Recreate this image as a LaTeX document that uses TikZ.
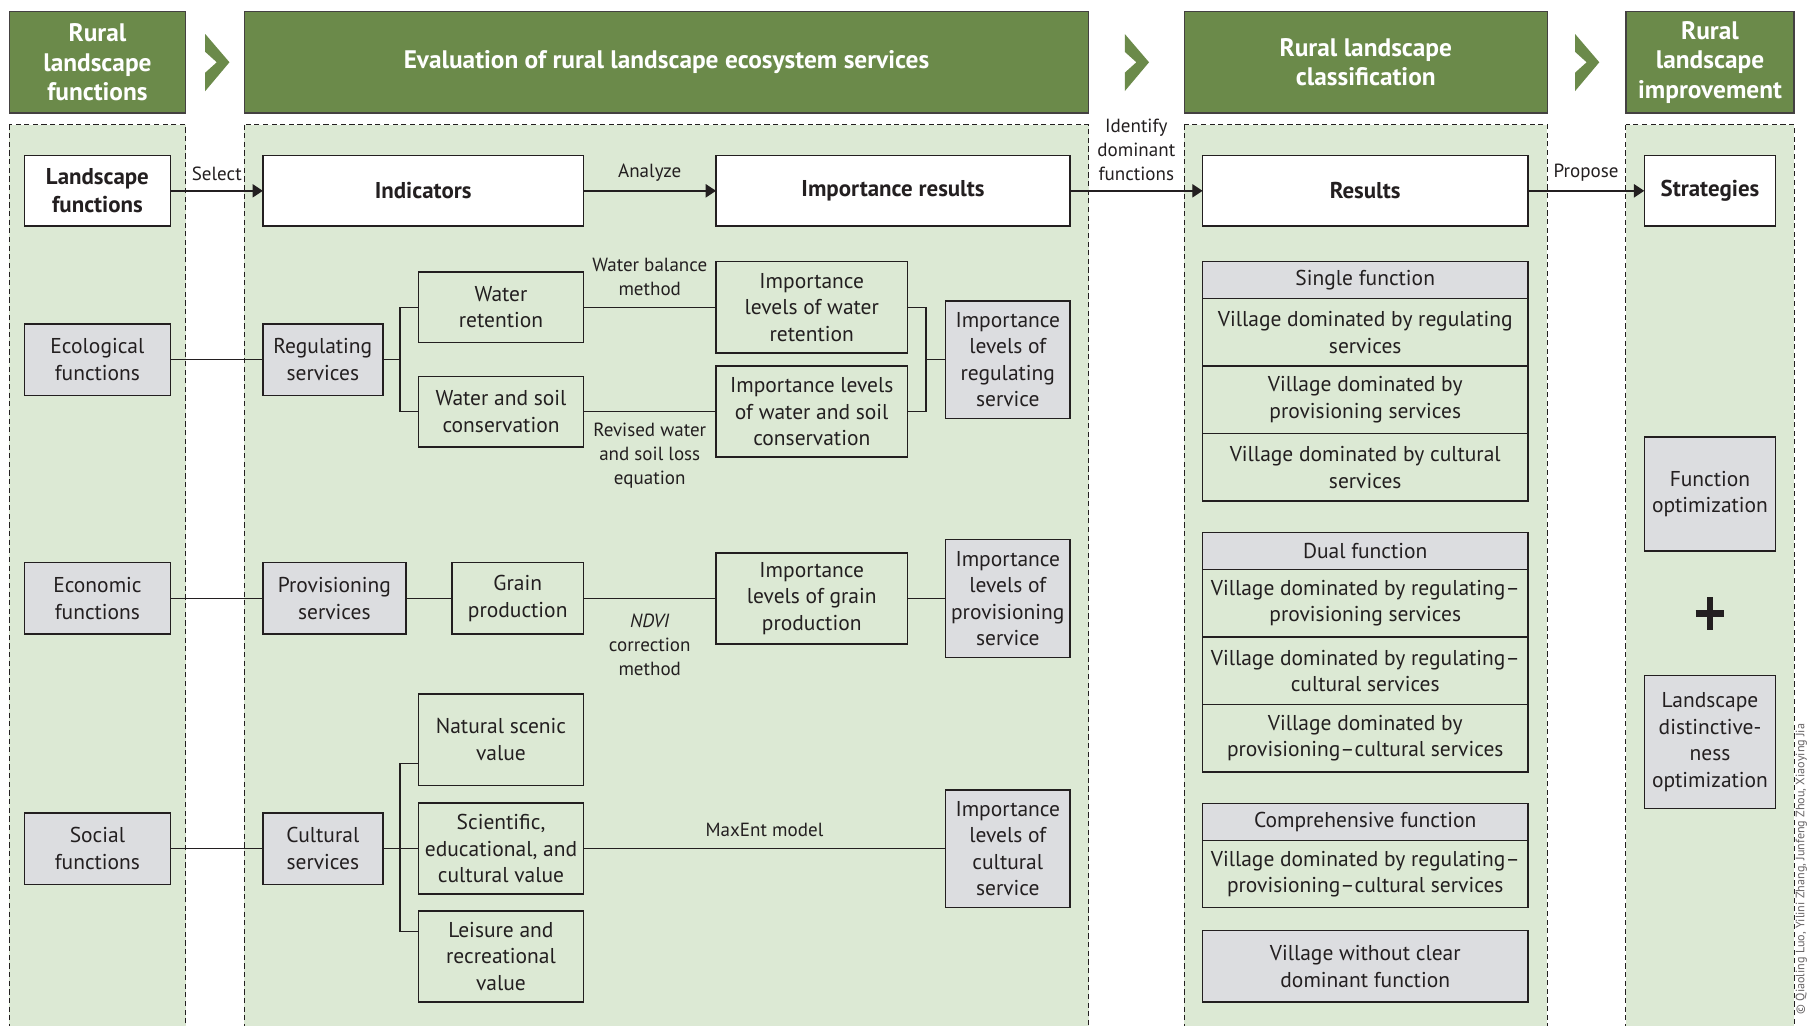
\documentclass[tikz,border=0pt]{standalone}
\usepackage{fontspec}
\setmainfont{PT Sans}
\usetikzlibrary{positioning, calc, arrows.meta}

\definecolor{hdgreen}{RGB}{107,138,74}
\definecolor{panelgreen}{RGB}{220,233,212}
\definecolor{boxgray}{RGB}{220,221,224}
\definecolor{ink}{RGB}{35,31,32}

\tikzset{
  sz/.style 2 args={minimum width=#1*0.2mm, minimum height=#2*0.2mm},
  head/.style={draw=ink!85, line width=0.7pt, fill=hdgreen, text=white, align=center, inner sep=0pt, font=\fontsize{12.5}{14.5}\selectfont\bfseries},
  panel/.style={draw=ink, line width=0.5pt, fill=panelgreen, dash pattern=on 0.9mm off 0.6mm},
  keybox/.style={draw=ink, line width=0.7pt, fill=white, text=ink, align=center, inner sep=0pt, outer sep=0pt, font=\fontsize{11.3}{14}\selectfont\bfseries},
  greybox/.style={draw=ink, line width=0.7pt, fill=boxgray, text=ink, align=center, inner sep=0pt, outer sep=0pt, font=\fontsize{10.6}{13.1}\selectfont},
  greenbox/.style={draw=ink, line width=0.7pt, fill=panelgreen, text=ink, align=center, inner sep=0pt, outer sep=0pt, font=\fontsize{10.6}{13.1}\selectfont},
  lbl/.style={align=center, text=ink, inner sep=2.5pt, font=\fontsize{9.4}{11.8}\selectfont},
  link/.style={draw=ink, line width=0.7pt},
  flow/.style={link, -{Triangle[length=1.8mm, width=2.3mm]}},
}

\begin{document}
\begin{tikzpicture}[x=0.2mm, y=-0.2mm]
    \useasboundingbox (0,0) rectangle (1568,889);

    \foreach \xa/\xb in {8/161, 212/944, 1027/1342, 1410/1556}
        \draw[panel] (\xa,108) rectangle (\xb,905);
    \foreach \cx in {178,975.5,1366}
        \fill[hdgreen] (\cx,29.5) -- (\cx+21,54) -- (\cx,79) -- (\cx,63) -- (\cx+10,54) -- (\cx,45) -- cycle;

    \node (hfun) at (84.5,54) [head, sz={153}{88}] {Rural\\landscape\\functions};
    \node (heval) at (578,54) [head, sz={732}{88}] {Evaluation of rural landscape ecosystem services};
    \node (hclass) at (1184.5,54) [head, sz={315}{88}] {Rural landscape\\classification};
    \node (himp) at (1483,54) [head, sz={146}{88}] {Rural\\landscape\\improvement};

    \node (lf) at (84.5,165.5) [keybox, sz={127}{61}] {Landscape\\functions};
    \node (ind) at (367,165.5) [keybox, sz={278}{61}] {Indicators};
    \node (imp) at (774.5,165.5) [keybox, sz={307}{61}] {Importance results};
    \node (res) at (1184,165.5) [keybox, sz={282}{61}] {Results};
    \node (strat) at (1483,165.5) [keybox, sz={114}{61}] {Strategies};

    \draw[flow] (lf) -- node[lbl, above=2pt] {Select} (ind);
    \draw[flow] (ind) -- node[lbl, above=2pt] {Analyze} (imp);
    \draw[flow] (imp) -- node[lbl, above=2pt] {Identify\\dominant\\functions} (res);
    \draw[flow] (res) -- node[lbl, above=2pt] {Propose} (strat);

    \node (eco) at (84.5,312) [greybox, sz={127}{62}] {Ecological\\functions};
    \node (econ) at (84.5,519) [greybox, sz={127}{62}] {Economic\\functions};
    \node (soc) at (84.5,736) [greybox, sz={127}{62}] {Social\\functions};

    \node (reg) at (280,312) [greybox, sz={104}{62}] {Regulating\\services};
    \node (prov) at (290,519) [greybox, sz={124}{62}] {Provisioning\\services};
    \node (cult) at (280,736) [greybox, sz={104}{62}] {Cultural\\services};

    \node (wr) at (434.5,266.5) [greenbox, sz={143}{61}] {Water\\retention};
    \node (wsc) at (434.5,357) [greenbox, sz={143}{61}] {Water and soil\\conservation};
    \node (grain) at (449,519) [greenbox, sz={114}{62}] {Grain\\production};
    \node (nat) at (434.5,641.5) [greenbox, sz={143}{79}] {Natural scenic\\value};
    \node (sci) at (434.5,736) [greenbox, sz={143}{79}] {Scientific,\\educational, and\\cultural value};
    \node (leis) at (434.5,829.5) [greenbox, sz={143}{79}] {Leisure and\\recreational\\value};

    \node (iwr) at (704,266.5) [greenbox, sz={166}{79}] {Importance\\levels of water\\retention};
    \node (iwsc) at (704,357) [greenbox, sz={166}{79}] {Importance levels\\of water and soil\\conservation};
    \node (igp) at (704,519) [greenbox, sz={166}{79}] {Importance\\levels of grain\\production};

    \node (irs) at (874,312) [greybox, sz={108}{102}] {Importance\\levels of\\regulating\\service};
    \node (ips) at (874,519) [greybox, sz={108}{102}] {Importance\\levels of\\provisioning\\service};
    \node (ics) at (874,736) [greybox, sz={108}{102}] {Importance\\levels of\\cultural\\service};

    \coordinate (regj) at (347,312);
    \coordinate (impj) at (803,312);
    \coordinate (cultj) at (347,736);

    \draw[link] (eco) -- (reg);
    \draw[link] (econ) -- (prov);
    \draw[link] (soc) -- (cult);
    \draw[link] (reg) -- (regj);
    \draw[link] (wr.west) -| (regj) |- (wsc.west);
    \draw[link] (wr) -- node[lbl, above=3pt] {Water balance\\method} (iwr);
    \draw[link] (wsc) -- node[lbl, below=3pt] {Revised water\\and soil loss\\equation} (iwsc);
    \draw[link] (iwr.east) -| (impj) |- (iwsc.east);
    \draw[link] (impj) -- (irs);
    \draw[link] (prov) -- (grain);
    \draw[link] (grain) -- node[lbl, below=5pt] {\textit{NDVI}\\correction\\method} (igp);
    \draw[link] (igp) -- (ips);
    \draw[link] (cult) -- (sci);
    \draw[link] ($(nat.west)+(0,20.5)$) -| (cultj) |- ($(leis.west)+(0,-21.5)$);
    \draw[link] (sci) -- node[lbl, above=3pt] {MaxEnt model} (ics);

    \node (single) at (1184,243) [greybox, sz={282}{32}] {Single function};
    \node (s1) [greenbox, sz={282}{58.5}, below=0pt of single] {Village dominated by regulating\\services};
    \node (s2) [greenbox, sz={282}{58.5}, below=0pt of s1] {Village dominated by\\provisioning services};
    \node (s3) [greenbox, sz={282}{58.5}, below=0pt of s2] {Village dominated by cultural\\services};

    \node (dual) at (1184,478) [greybox, sz={282}{32}] {Dual function};
    \node (d1) [greenbox, sz={282}{58.5}, below=0pt of dual] {Village dominated by regulating--\\provisioning services};
    \node (d2) [greenbox, sz={282}{58.5}, below=0pt of d1] {Village dominated by regulating--\\cultural services};
    \node (d3) [greenbox, sz={282}{58.5}, below=0pt of d2] {Village dominated by\\provisioning--cultural services};

    \node (comp) at (1184,713) [greybox, sz={282}{32}] {Comprehensive function};
    \node (c1) [greenbox, sz={282}{58}, below=0pt of comp] {Village dominated by regulating--\\provisioning--cultural services};

    \node (nodom) at (1184,838) [greybox, sz={282}{62}] {Village without clear\\dominant function};

    \node (fopt) at (1483,428.5) [greybox, sz={114}{99}] {Function\\optimization};
    \node (ldopt) at (1483,643.5) [greybox, sz={114}{115}] {Landscape\\distinctive-\\ness\\optimization};
    \draw[ink, line width=1.1mm] (1470.5,532) -- (1495.5,532) (1483,518) -- (1483,546);

    \node (credit) at (1557,880) [rotate=90, anchor=north west, inner sep=0pt, text=ink!70, font=\fontsize{6}{7}\selectfont] {© Qiaoling Luo, Yilini Zhang, Junfeng Zhou, Xiaoying Jia};
\end{tikzpicture}
\end{document}
